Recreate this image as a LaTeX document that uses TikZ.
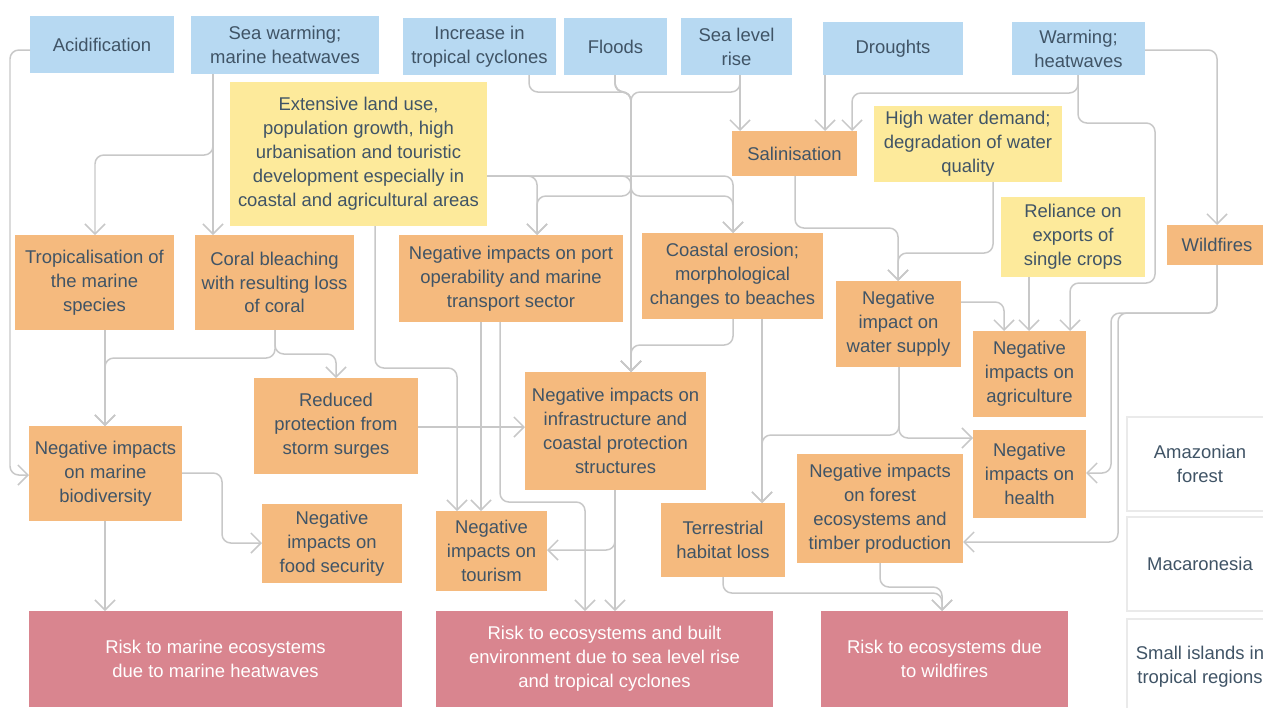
\documentclass[tikz,border=0pt]{standalone}
\usepackage{fontspec}
\setmainfont{Liberation Sans}
\usetikzlibrary{arrows.meta}

\definecolor{hazard}{RGB}{183,217,242}
\definecolor{driver}{RGB}{253,234,155}
\definecolor{impact}{RGB}{245,186,126}
\definecolor{risk}{RGB}{217,133,143}
\definecolor{ink}{RGB}{64,84,102}
\definecolor{wire}{RGB}{200,200,200}
\definecolor{frame}{RGB}{234,234,234}

% box given by its corners in pixel units (x1,y1) (x2,y2)
\newcommand\placebox[7]{%
  \node[box,#2,minimum width={(#5-#3)*0.02cm},minimum height={(#6-#4)*0.02cm}]
    (#1) at ({(#3+#5)/2},{(#4+#6)/2}) {#7};}

\tikzset{
  box/.style={inner sep=1pt, outer sep=0pt, align=center, text=ink,
    font=\fontsize{10.5}{13.6}\selectfont},
  haz/.style={fill=hazard},
  drv/.style={fill=driver},
  imp/.style={fill=impact},
  rsk/.style={fill=risk, text=white},
  region/.style={fill=white, draw=frame, line width=0.8pt},
  conn/.style={draw=wire, line width=0.85pt, rounded corners=5pt},
  arr/.style={conn, -{Straight Barb[length=0.2cm,width=0.4cm]}},
}

\begin{document}
\begin{tikzpicture}[x=0.02cm, y=-0.02cm]
\useasboundingbox (0,0) rectangle (1263,707);

% hazards
\placebox{acid}{haz}{30}{16}{174}{73}{Acidification}
\placebox{seaw}{haz}{191}{16}{379}{74}{Sea warming;\\marine heatwaves}
\placebox{cycl}{haz}{403}{18}{556}{75}{Increase in\\tropical cyclones}
\placebox{flood}{haz}{564}{18}{667}{75}{Floods}
\placebox{slr}{haz}{681}{18}{792}{75}{Sea level\\rise}
\placebox{drought}{haz}{823}{22}{963}{75}{Droughts}
\placebox{warm}{haz}{1012}{22}{1145}{75}{Warming;\\heatwaves}

% drivers
\placebox{land}{drv}{230}{82}{487}{226}{Extensive land use,\\population growth, high\\urbanisation and touristic\\development especially in\\coastal and agricultural areas}
\placebox{hwd}{drv}{874}{106}{1062}{182}{High water demand;\\degradation of water\\quality}
\placebox{reli}{drv}{1001}{197}{1145}{277}{Reliance on\\exports of\\single crops}

% impacts
\placebox{salin}{imp}{732}{131}{857}{176}{Salinisation}
\placebox{wild}{imp}{1167}{225}{1267}{265}{Wildfires}
\placebox{trop}{imp}{15}{235}{174}{330}{Tropicalisation of\\the marine\\species}
\placebox{coral}{imp}{195}{235}{354}{330}{Coral bleaching\\with resulting loss\\of coral}
\placebox{port}{imp}{399}{235}{623}{322}{Negative impacts on port\\operability and marine\\transport sector}
\placebox{coast}{imp}{642}{233}{823}{319}{Coastal erosion;\\morphological\\changes to beaches}
\placebox{water}{imp}{836}{281}{961}{367}{Negative\\impact on\\water supply}
\placebox{agri}{imp}{973}{331}{1086}{417}{Negative\\impacts on\\agriculture}
\placebox{health}{imp}{973}{430}{1086}{518}{Negative\\impacts on\\health}
\placebox{forest}{imp}{797}{454}{963}{563}{Negative impacts\\on forest\\ecosystems and\\timber production}
\placebox{reduced}{imp}{254}{378}{418}{474}{Reduced\\protection from\\storm surges}
\placebox{mbio}{imp}{29}{426}{182}{521}{Negative impacts\\on marine\\biodiversity}
\placebox{food}{imp}{262}{504}{402}{583}{Negative\\impacts on\\food security}
\placebox{tour}{imp}{436}{511}{547}{591}{Negative\\impacts on\\tourism}
\placebox{terr}{imp}{661}{503}{785}{577}{Terrestrial\\habitat loss}
\placebox{infra}{imp}{525}{372}{706}{490}{Negative impacts on\\infrastructure and\\coastal protection\\structures}

% key risks
\placebox{riska}{rsk}{29}{611}{402}{707}{Risk to marine ecosystems\\due to marine heatwaves}
\placebox{riskb}{rsk}{436}{611}{773}{707}{Risk to ecosystems and built\\environment due to sea level rise\\and tropical cyclones}
\placebox{riskc}{rsk}{821}{611}{1068}{707}{Risk to ecosystems due\\to wildfires}

% regions
\placebox{amaz}{region}{1127}{417}{1273}{511}{Amazonian\\forest}
\placebox{maca}{region}{1127}{517}{1273}{611}{Macaronesia}
\placebox{isles}{region}{1127}{619}{1273}{715}{Small islands in\\tropical regions}

% marine chain
\draw[arr] (acid.west |- 0,50) -- (10,50) -- (10,475) -- (mbio.west |- 0,475);
\draw[arr] (seaw.south -| 213,0) -- (coral.north -| 213,0);
\draw[arr] (seaw.south -| 213,0) -- (213,155) -- (95,155) -- (trop.north -| 95,0);
\draw[arr] (trop.south -| 105,0) -- (mbio.north -| 105,0);
\draw[arr] (coral.south -| 275,0) -- (275,358) -- (105,358) -- (mbio.north -| 105,0);
\draw[arr] (coral.south -| 275,0) -- (275,354) -- (336,354) -- (reduced.north -| 336,0);
\draw[arr] (mbio.east |- 0,473) -- (222,473) -- (222,543) -- (food.west |- 0,543);
\draw[arr] (mbio.south -| 105,0) -- (riska.north -| 105,0);
\draw[arr] (reduced.east |- 0,427) -- (infra.west |- 0,427);

% land use driver
\draw[arr] (land.east |- 0,176) -- (537,176) -- (port.north -| 537,0);
\draw[arr] (land.east |- 0,176) -- (631,176) -- (infra.north -| 631,0);
\draw[arr] (land.east |- 0,176) -- (733,176) -- (coast.north -| 733,0);
\draw[arr] (land.south -| 375,0) -- (375,368) -- (457,368) -- (tour.north -| 457,0);

% coastal hazards
\draw[arr] (cycl.south -| 529,0) -- (529,92) -- (631,92) -- (infra.north -| 631,0);
\draw[arr] (flood.south -| 615,0) -- (615,92) -- (631,92) -- (infra.north -| 631,0);
\draw[arr] (slr.south -| 740,0) -- (740,92) -- (631,92) -- (infra.north -| 631,0);
\draw[arr] (flood.south -| 615,0) -- (615,92) -- (631,92) -- (631,196) -- (537,196) -- (port.north -| 537,0);
\draw[arr] (flood.south -| 615,0) -- (615,92) -- (631,92) -- (631,196) -- (733,196) -- (coast.north -| 733,0);
\draw[arr] (slr.south -| 740,0) -- (salin.north -| 740,0);
\draw[arr] (coast.south -| 733,0) -- (733,345) -- (631,345) -- (infra.north -| 631,0);
\draw[arr] (coast.south -| 762,0) -- (terr.north -| 762,0);

% water and heat
\draw[arr] (drought.south -| 825,0) -- (salin.north -| 825,0);
\draw[arr] (warm.south -| 1078,0) -- (1078,93) -- (852,93) -- (salin.north -| 852,0);
\draw[arr] (warm.east |- 0,50) -- (1217,50) -- (wild.north -| 1217,0);
\draw[arr] (warm.south -| 1078,0) -- (1078,123) -- (1155,123) -- (1155,283) -- (1070,283) -- (agri.north -| 1070,0);
\draw[arr] (salin.south -| 795,0) -- (795,228) -- (898,228) -- (water.north -| 898,0);
\draw[arr] (hwd.south -| 993,0) -- (993,253) -- (898,253) -- (water.north -| 898,0);
\draw[arr] (water.east |- 0,302) -- (1004,302) -- (agri.north -| 1004,0);
\draw[arr] (reli.south -| 1029,0) -- (agri.north -| 1029,0);
\draw[arr] (water.south -| 899,0) -- (899,435) -- (762,435) -- (terr.north -| 762,0);
\draw[arr] (water.south -| 899,0) -- (899,438) -- (health.west |- 0,438);
\draw[arr] (wild.south -| 1217,0) -- (1217,313) -- (1111,313) -- (1111,473) -- (health.east |- 0,473);
\draw[arr] (wild.south -| 1217,0) -- (1217,313) -- (1118,313) -- (1118,542) -- (forest.east |- 0,542);

% towards the key risks
\draw[arr] (port.south -| 481,0) -- (tour.north -| 481,0);
\draw[arr] (port.south -| 500,0) -- (500,502) -- (585,502) -- (riskb.north -| 585,0);
\draw[arr] (infra.south -| 615,0) -- (riskb.north -| 615,0);
\draw[arr] (infra.south -| 615,0) -- (615,550) -- (tour.east |- 0,550);
\draw[arr] (forest.south -| 880,0) -- (880,587) -- (942,587) -- (riskc.north -| 942,0);
\draw[arr] (terr.south -| 723,0) -- (723,593) -- (942,593) -- (riskc.north -| 942,0);
\end{tikzpicture}
\end{document}
